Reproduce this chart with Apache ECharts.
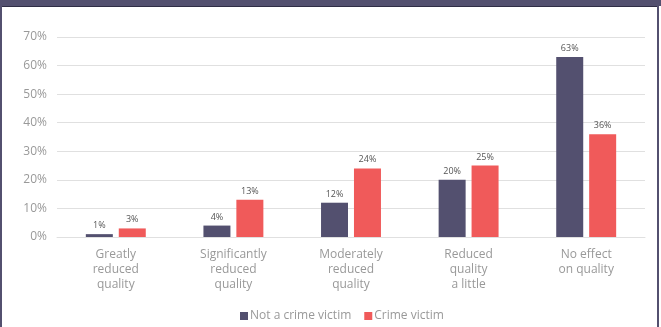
<!DOCTYPE html>
<html><head><meta charset="utf-8">
<script src="https://cdn.jsdelivr.net/npm/echarts@6/dist/echarts.min.js"></script>
<style>html,body{margin:0;padding:0;background:#fff}#c{width:661px;height:327px}</style>
</head><body><div id="c"></div>
<script>
const categories = ['Greatly\nreduced\nquality','Significantly\nreduced\nquality','Moderately\nreduced\nquality','Reduced\nquality\na little','No effect\non quality'];
const notVictim = [1,4,12,20,63];
const crimeVictim = [3,13,24,25,36];
const seriesNames = ['Not a crime victim','Crime victim'];
const yTicks = [0,10,20,30,40,50,60,70];

const chart = echarts.init(document.getElementById('c'));
const lbl = {show:true, position:'top', distance:4, fontFamily:'Open Sans', fontSize:9, color:'#555', formatter: p => p.value + '%'};
chart.setOption({
  animation:false,
  textStyle:{fontFamily:'Open Sans'},
  graphic:[
    {type:'rect', shape:{x:0,y:0,width:661,height:6}, style:{fill:'#53506f'}},
    {type:'rect', shape:{x:0,y:6,width:659,height:1}, style:{fill:'#2f2d45'}},
    {type:'rect', shape:{x:0,y:0,width:2,height:327}, style:{fill:'#53506f'}},
    {type:'rect', shape:{x:657,y:0,width:2,height:327}, style:{fill:'#53506f'}}
  ],
  grid:{left:57, right:16, top:37, bottom:90},
  legend:{bottom:0, left:235, itemWidth:8, itemHeight:8, itemGap:13, icon:'rect',
    textStyle:{fontSize:12, color:'#999', padding:[0,0,0,-3]}, data:seriesNames},
  xAxis:{type:'category', data:categories,
    axisLine:{lineStyle:{color:'#e0e0e0'}}, axisTick:{show:false},
    axisLabel:{color:'#999', fontSize:12, lineHeight:15, margin:10}},
  yAxis:{type:'value', min:0, max:70, interval:10,
    axisLabel:{color:'#999', fontSize:12, margin:10, formatter: v => v + '%'},
    splitLine:{lineStyle:{color:'#e0e0e0'}}},
  series:[
    {name:seriesNames[0], type:'bar', data:notVictim, barWidth:27, barGap:'22%', itemStyle:{color:'#53506f'}, label:lbl},
    {name:seriesNames[1], type:'bar', data:crimeVictim, barWidth:27, itemStyle:{color:'#f05a5a'}, label:lbl}
  ]
});
</script></body></html>
